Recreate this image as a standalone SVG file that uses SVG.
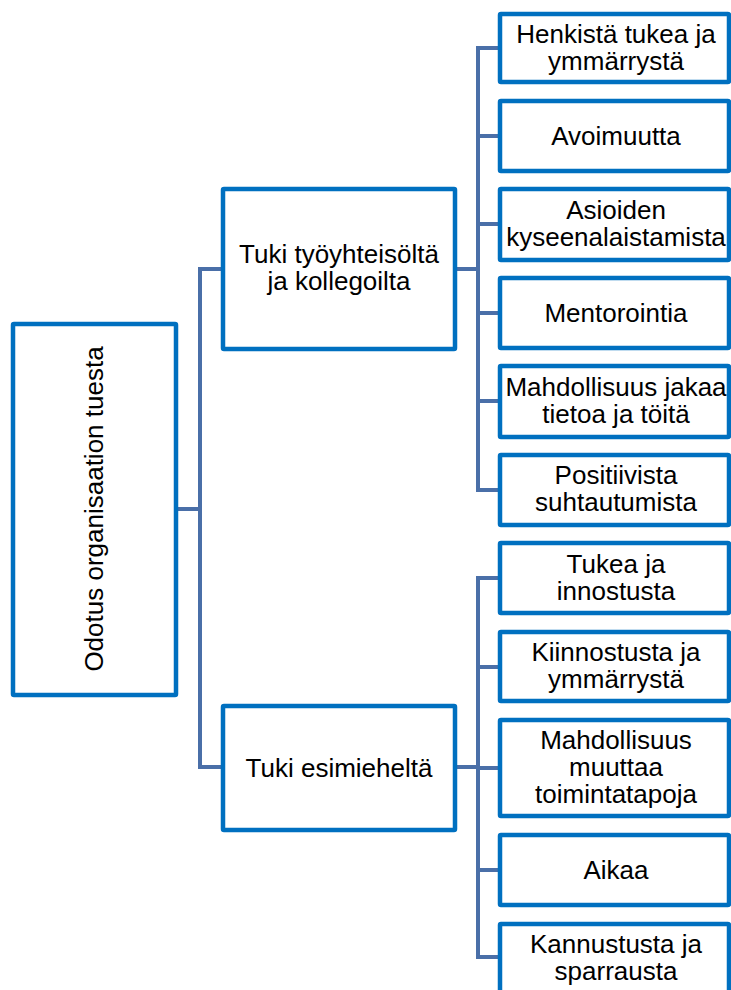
<svg xmlns="http://www.w3.org/2000/svg" width="731" height="990" viewBox="0 0 731 990">
  <style>
    .box { fill: #ffffff; stroke: #0070c0; stroke-width: 4.5; }
    .lbl { font-family: "Liberation Sans", Arial, sans-serif; font-size: 26px; fill: #000000; text-anchor: middle; }
    .wire { fill: none; stroke: #4a6fa8; stroke-width: 4; stroke-linejoin: miter; stroke-linecap: butt; }
  </style>
  <rect width="731" height="990" fill="#ffffff"/>

  <!-- connectors -->
  <g id="connectors">
    <path class="wire" d="M178 509 H200 M221 269 H200 V767 H221"/>
    <path class="wire" d="M457 269 H478 M498 48 H478 V490 H498 M478 136 H498 M478 224 H498 M478 313 H498 M478 401 H498"/>
    <path class="wire" d="M457 767 H478 M498 578 H478 V957 H498 M478 667 H498 M478 768 H498 M478 870 H498"/>
  </g>

  <!-- root -->
  <g id="root">
    <rect class="box" x="13" y="324" width="163" height="371" rx="1"/>
    <text class="lbl" transform="translate(103 509) rotate(-90)" x="0" y="0">Odotus organisaation tuesta</text>
  </g>

  <!-- level 1 -->
  <g id="tyoyhteiso">
    <rect class="box" x="223" y="189" width="232" height="160" rx="1"/>
    <text class="lbl" x="339" y="263">Tuki työyhteisöltä</text>
    <text class="lbl" x="339" y="290">ja kollegoilta</text>
  </g>
  <g id="esimies">
    <rect class="box" x="223" y="706" width="232" height="124" rx="1"/>
    <text class="lbl" x="339" y="777">Tuki esimieheltä</text>
  </g>

  <!-- level 2: colleagues -->
  <g id="henkista">
    <rect class="box" x="500" y="14" width="229" height="68" rx="1"/>
    <text class="lbl" x="616" y="43">Henkistä tukea ja</text>
    <text class="lbl" x="616" y="70">ymmärrystä</text>
  </g>
  <g id="avoimuutta">
    <rect class="box" x="500" y="101" width="229" height="70" rx="1"/>
    <text class="lbl" x="616" y="145">Avoimuutta</text>
  </g>
  <g id="kyseenalaistaminen">
    <rect class="box" x="500" y="189" width="229" height="71" rx="1"/>
    <text class="lbl" x="616" y="219">Asioiden</text>
    <text class="lbl" x="616" y="246">kyseenalaistamista</text>
  </g>
  <g id="mentorointi">
    <rect class="box" x="500" y="278" width="229" height="70" rx="1"/>
    <text class="lbl" x="616" y="322">Mentorointia</text>
  </g>
  <g id="jakaminen">
    <rect class="box" x="500" y="366" width="229" height="71" rx="1"/>
    <text class="lbl" x="616" y="396">Mahdollisuus jakaa</text>
    <text class="lbl" x="616" y="423">tietoa ja töitä</text>
  </g>
  <g id="positiivisuus">
    <rect class="box" x="500" y="455" width="229" height="70" rx="1"/>
    <text class="lbl" x="616" y="484">Positiivista</text>
    <text class="lbl" x="616" y="511">suhtautumista</text>
  </g>

  <!-- level 2: supervisor -->
  <g id="innostus">
    <rect class="box" x="500" y="543" width="229" height="70" rx="1"/>
    <text class="lbl" x="616" y="573">Tukea ja</text>
    <text class="lbl" x="616" y="600">innostusta</text>
  </g>
  <g id="kiinnostus">
    <rect class="box" x="500" y="632" width="229" height="69" rx="1"/>
    <text class="lbl" x="616" y="661">Kiinnostusta ja</text>
    <text class="lbl" x="616" y="688">ymmärrystä</text>
  </g>
  <g id="toimintatavat">
    <rect class="box" x="500" y="720" width="229" height="96" rx="1"/>
    <text class="lbl" x="616" y="749">Mahdollisuus</text>
    <text class="lbl" x="616" y="776">muuttaa</text>
    <text class="lbl" x="616" y="803">toimintatapoja</text>
  </g>
  <g id="aika">
    <rect class="box" x="500" y="835" width="229" height="70" rx="1"/>
    <text class="lbl" x="616" y="879">Aikaa</text>
  </g>
  <g id="kannustus">
    <rect class="box" x="500" y="924" width="229" height="70" rx="1"/>
    <text class="lbl" x="616" y="953">Kannustusta ja</text>
    <text class="lbl" x="616" y="980">sparrausta</text>
  </g>
</svg>
